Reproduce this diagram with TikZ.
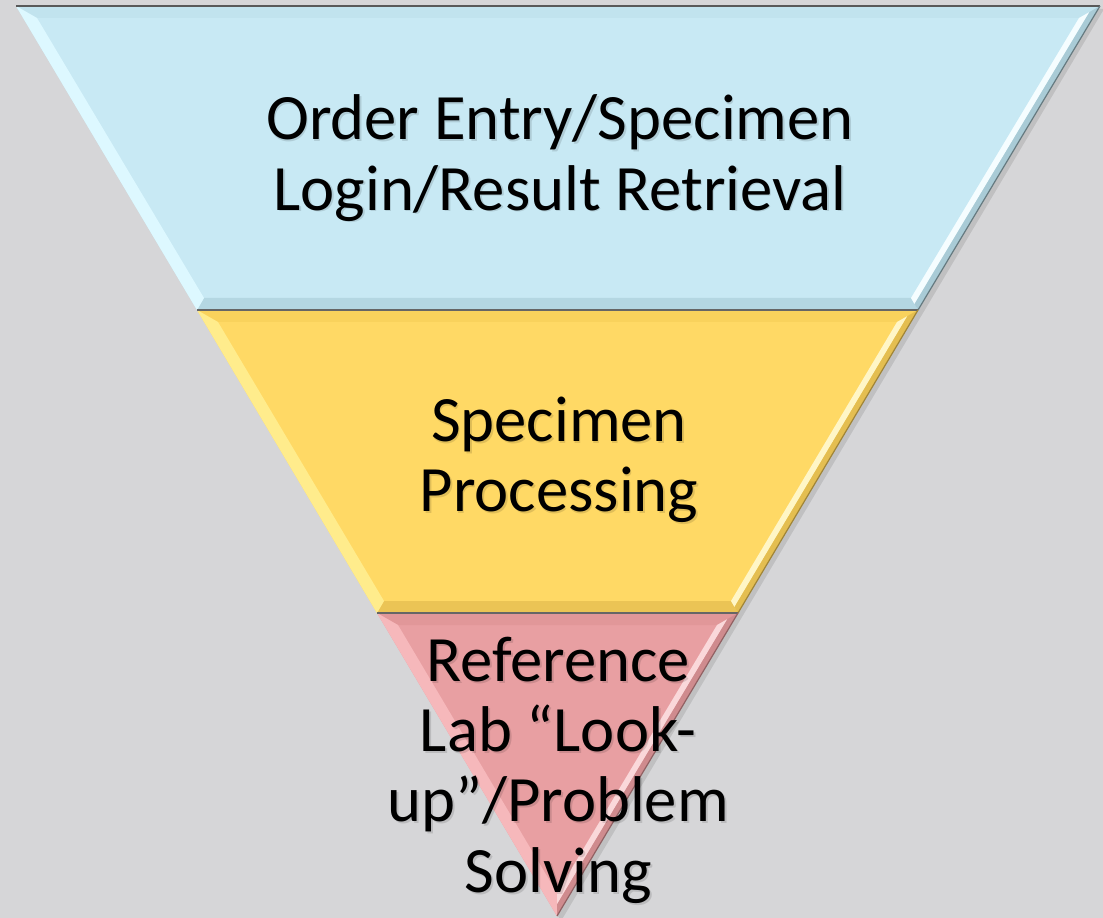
\documentclass[tikz,border=0pt]{standalone}
\usepackage{fontspec}
\setmainfont{Carlito}

\definecolor{bggray}{HTML}{D6D6D8}
\definecolor{bandblue}{HTML}{C8E9F4}
\definecolor{blueedge}{HTML}{DDF8FF}
\definecolor{bluetop}{HTML}{C1E3EE}
\definecolor{bluelow}{HTML}{B4D7E2}
\definecolor{blueouter}{HTML}{A9CBD6}
\definecolor{bandyellow}{HTML}{FFD965}
\definecolor{yellowedge}{HTML}{FFEC8C}
\definecolor{yellowtop}{HTML}{F9D25C}
\definecolor{yellowlow}{HTML}{EBC455}
\definecolor{yellowouter}{HTML}{E4BE50}
\definecolor{bandpink}{HTML}{E89FA2}
\definecolor{pinkedge}{HTML}{F6B8BB}
\definecolor{pinktop}{HTML}{E19799}
\definecolor{pinkouter}{HTML}{CF8B8E}

\tikzset{
  funneltext/.style={align=center, font=\fontsize{46}{50}\selectfont, text=black},
  textshadow/.style={funneltext, text=black, text opacity=0.12},
  rim/.style={draw=#1, line width=0.03cm},
}

\begin{document}
\begin{tikzpicture}[x=0.025cm,y=-0.025cm]
  % page and background
  \useasboundingbox (0,0) rectangle (1103,918);
  \fill[bggray] (0,0) rectangle (1103,918);

  % soft shadow behind the funnel
  \fill[black, opacity=0.10] (19,9) -- (1104,9) -- (561,921) -- cycle;

  % --- top band
  \fill[bandblue] (16,6) -- (1100,6) -- (918,310) -- (197,310) -- cycle;
  \fill[bluetop] (16,6) -- (1100,6) -- (1079,18) -- (37,18) -- cycle;
  \fill[bluelow] (197,310) -- (918,310) -- (911,298) -- (204,298) -- cycle;
  \fill[blueedge] (16,6) -- (37,18) -- (204,298) -- (197,310) -- cycle;
  \fill[white!70!blueedge] (1079,18) -- (1089.5,12) -- (914.5,304) -- (911,298) -- cycle;
  \fill[blueouter] (1089.5,12) -- (1100,6) -- (918,310) -- (914.5,304) -- cycle;
  \draw[rim=gray!70!black] (16,6) -- (1100,6);
  \draw[rim=blueouter!60!black] (1100,6) -- (918,310);

  % --- middle band
  \fill[bandyellow] (197,310) -- (918,310) -- (738,613) -- (377,613) -- cycle;
  \fill[yellowtop] (197,310) -- (918,310) -- (897,322) -- (218,322) -- cycle;
  \fill[yellowlow] (377,613) -- (738,613) -- (731,601) -- (384,601) -- cycle;
  \fill[yellowedge] (197,310) -- (218,322) -- (384,601) -- (377,613) -- cycle;
  \fill[white!50!yellowedge] (897,322) -- (907.5,316) -- (734.5,607) -- (731,601) -- cycle;
  \fill[yellowouter] (907.5,316) -- (918,310) -- (738,613) -- (734.5,607) -- cycle;
  \draw[rim=gray!80!black] (197,310) -- (918,310);
  \draw[rim=yellowouter!70!black] (918,310) -- (738,613);

  % --- bottom triangle
  \fill[bandpink] (377,613) -- (738,613) -- (557,916) -- cycle;
  \fill[pinktop] (377,613) -- (738,613) -- (717,625) -- (398,625) -- cycle;
  \fill[pinkedge] (377,613) -- (398,625) -- (557,893) -- (557,916) -- cycle;
  \fill[white!45!pinkedge] (717,625) -- (727.5,619) -- (557,904.5) -- (557,893) -- cycle;
  \fill[pinkouter] (727.5,619) -- (738,613) -- (557,916) -- (557,904.5) -- cycle;
  \draw[rim=gray!80!black] (377,613) -- (738,613);
  \draw[rim=pinkouter!70!black] (738,613) -- (557,916);

  % labels, each with a faint drop shadow
  \node[textshadow] (entry-sh) at (561.5,159.5) {Order Entry/Specimen\\Login/Result Retrieval};
  \node[funneltext] (entry) at (560,158) {Order Entry/Specimen\\Login/Result Retrieval};
  \node[textshadow] (processing-sh) at (560.5,461.5) {Specimen\\Processing};
  \node[funneltext] (processing) at (559,460) {Specimen\\Processing};
  \node[textshadow] (lookup-sh) at (560,772) {Reference\\Lab “Look-\\up”/Problem\\Solving};
  \node[funneltext] (lookup) at (558,770) {Reference\\Lab “Look-\\up”/Problem\\Solving};
\end{tikzpicture}
\end{document}
